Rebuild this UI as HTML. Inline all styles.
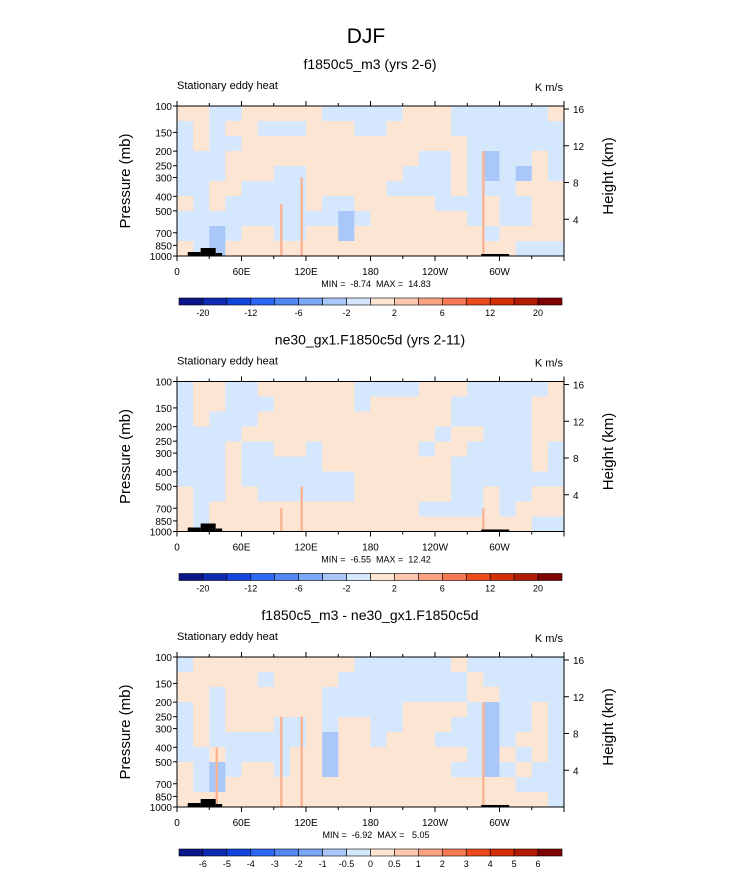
<!DOCTYPE html>
<html><head><meta charset="utf-8"><style>
html,body{margin:0;padding:0;background:#fff;width:733px;height:888px;overflow:hidden}
svg{display:block;font-family:"Liberation Sans",Arial,sans-serif}
</style></head><body>
<svg id="chart" width="733" height="888" viewBox="0 0 733 888"></svg>
<script>
const panelTitles = ["f1850c5_m3 (yrs 2-6)", "ne30_gx1.F1850c5d (yrs 2-11)", "f1850c5_m3 - ne30_gx1.F1850c5d"];
const minMaxText = ["MIN =  -8.74  MAX =  14.83", "MIN =  -6.55  MAX =  12.42", "MIN =  -6.92  MAX =   5.05"];
const cbLabels1 = ["-20","-12","-6","-2","2","6","12","20"];
const cbLabels3 = ["-6","-5","-4","-3","-2","-1","-0.5","0","0.5","1","2","3","4","5","6"];
const pressureTicks = [100,150,200,250,300,400,500,700,850,1000];
const heightTicks = [4,8,12,16];
const lonTicks = [0,60,120,180,240,300];
const lonLabels = ["0","60E","120E","180","120W","60W"];
const field1 = [
"ppbbpppppbbbbbpppbbbbbbp",
"bpbppbbbpppbbppppbbbbbbb",
"bpbbppppppppppppppbbbbbb",
"bbbppppppppppppbbpbBbbpb",
"bbbpppbbppppppbbbpbBbBpb",
"bbppbbbbpppppbbbbpbbbppp",
"pbpbbbbbpbbpppppbbbpbbpp",
"bbbbbbbbbbBbppppppbpbbpp",
"bbBbppbbppBppppppppbpppp",
"pbBppppppppppppppppppbbb"];
const field2 = [
"bppbbppppppbbbbpppbbbbbp",
"bppbbbpppppbpppppbbbbbpp",
"bpbbbppppppppppppbbbbbpp",
"bbbbppppppppppppbppbbbpp",
"bbbpbbppbppppppbppbbbbpb",
"bbbpbbbbbppppppppbbbbbpb",
"bbbpbbbbbbbppppppbbbbbbb",
"pbbppbbbbbbppppppbbpbbpp",
"pbpppppppppppppbbbbpbppp",
"pbppppppppppppppppppppbb"];
const field3 = [
"bppppppppppbbbbbbpbbbbbb",
"pppppbppppbbbbbbbbpbbbbb",
"ppbppppppbbbbbbbbbppbbbb",
"bpbppppppbbbbbppppbBbbpb",
"bpbpppbbpbppbbpppbbBbbpb",
"bpbbbbbbpBppbpppbbbBbppb",
"bbpbbbbppBppppppppbBpbpb",
"pbBbppbppBpppppppbbBbpbb",
"pbBppppppppppppppppppbbb",
"pppppppppppppppppppppppb"];
const fields = [field1, field2, field3];
// thin positive stripes: [lon, top pressure]
const stripes1 = [[97,450],[116,300],[285,200]];
const stripes2 = [[97,700],[116,500],[285,700]];
const stripes3 = [[97,250],[116,250],[285,200],[37,400]];
const stripes = [stripes1, stripes2, stripes3];
const cbColors = ["#0b1787","#0d2ab3","#1444de","#2c68f3","#5287f4","#7ca6f6","#a9c7f9","#d4e7fc","#fde5d3","#fcc7ae","#faa282","#f67a53","#eb4b1d","#d42e05","#b11a03","#7e0202"];
const cellColors = {b:"#d4e7fc", p:"#fde5d3", B:"#a9c7f9"};

const svg = document.getElementById('chart');
const NS = "http://www.w3.org/2000/svg";
function mk(tag, attrs, parent){ const e=document.createElementNS(NS,tag); for(const k in attrs) e.setAttribute(k,attrs[k]); (parent||svg).appendChild(e); return e; }
const X0=177, X1=564, PH=150;
const tops=[106,381.5,657];
const xScale = lon => X0 + (lon/360)*(X1-X0);
const pScale = (p,top) => top + Math.log10(p/100)*PH;
const hScale = (h,top) => top+PH - (h/16)*(PH-3);

let t = mk('text',{x:366,y:43,'text-anchor':'middle','font-size':21});
t.textContent="DJF";
 

tops.forEach((top,pi)=>{
  const g = mk('g',{});
   
  let tt = mk('text',{x:370,y:top-37,'text-anchor':'middle','font-size':14},g);
  tt.textContent=panelTitles[pi];
   
  let lt = mk('text',{x:X0,y:top-17,'font-size':11},g); lt.textContent="Stationary eddy heat";
   
  let rt = mk('text',{x:X1-1,y:top-15,'text-anchor':'end','font-size':11},g); rt.textContent="K m/s";
   
  const f = fields[pi]; const nr=f.length, nc=f[0].length;
  for(let r=0;r<nr;r++) for(let c=0;c<nc;c++){
    const ch=f[r][c];
    const cell=mk('rect',{x:xScale(c*360/nc),y:top+r*PH/nr,width:(X1-X0)/nc+0.5,height:PH/nr+0.5,fill:cellColors[ch]||"#fde5d3"},g);
     
  }
  stripes[pi].forEach(s=>{ const y=pScale(s[1],top);
    const r=mk('rect',{x:xScale(s[0])-1.2,y:y,width:2.4,height:top+PH-y,fill:"#fab394"},g);
     });
  const topo=[[10,22,4],[22,36,8],[36,42,3],[283,309,2]];
  topo.forEach(tp=>{ const r=mk('rect',{x:xScale(tp[0]),y:top+PH-tp[2],width:xScale(tp[1])-xScale(tp[0]),height:tp[2],fill:"#000"},g);
     });
  const fr=mk('rect',{x:X0,y:top,width:X1-X0,height:PH,fill:'none',stroke:'#000','stroke-width':1},g);
   
  pressureTicks.forEach(p=>{ const y=pScale(p,top);
    mk('line',{x1:X0-4,x2:X0,y1:y,y2:y,stroke:'#000'},g);
    const l=mk('text',{x:X0-5,y:y+4,'font-size':10,'text-anchor':'end'},g); l.textContent=p;
     });
  heightTicks.forEach(h=>{ const y=hScale(h,top);
    mk('line',{x1:X1,x2:X1+5,y1:y,y2:y,stroke:'#000'},g);
    const l=mk('text',{x:X1+9,y:y+4,'font-size':10},g); l.textContent=h;
     });
  for(let lon=0;lon<=360;lon+=30){ const x=xScale(lon); const big=lon%60===0;
    mk('line',{x1:x,x2:x,y1:top+PH,y2:top+PH+(big?5:3),stroke:'#000'},g);
    mk('line',{x1:x,x2:x,y1:top,y2:top-(big?5:3),stroke:'#000'},g);}
  lonTicks.forEach((lon,i)=>{ const l=mk('text',{x:xScale(lon),y:top+PH+19,'font-size':10,'text-anchor':'middle'},g);
    l.textContent=lonLabels[i];  });
  const yl=mk('text',{transform:`translate(130,${top+PH/2}) rotate(-90)`,'text-anchor':'middle','font-size':15},g);
  yl.textContent="Pressure (mb)";  
  const yr=mk('text',{transform:`translate(613,${top+PH/2-5}) rotate(-90)`,'text-anchor':'middle','font-size':15},g);
  yr.textContent="Height (km)";  
  const mm=mk('text',{x:376,y:top+PH+31,'font-size':9,'text-anchor':'middle','xml:space':'preserve'},g);
  mm.style.whiteSpace='pre';
  mm.textContent=minMaxText[pi];  
  const cy=top+192, cw=(562-179)/16;
  cbColors.forEach((col,i)=>{ const r=mk('rect',{x:179+i*cw,y:cy,width:cw,height:7,fill:col,stroke:'#000','stroke-width':0.6},g);
     });
  const labs = pi<2?cbLabels1:cbLabels3;
  labs.forEach((s,i)=>{ const bi = pi<2? 2*i+1 : i+1;
    const l=mk('text',{x:179+bi*cw,y:cy+18,'font-size':9,'text-anchor':'middle'},g); l.textContent=s;
     });
});
</script>
</body></html>
